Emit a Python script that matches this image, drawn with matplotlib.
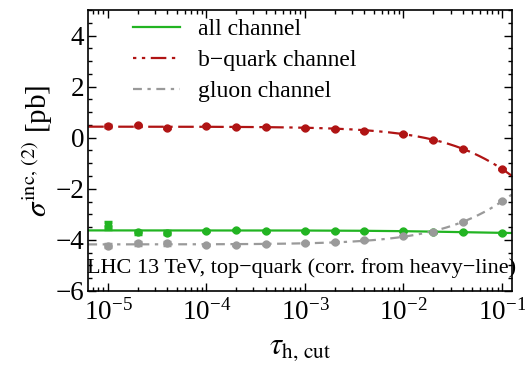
import numpy as np
import matplotlib
matplotlib.use('Agg')
import matplotlib.pyplot as plt
from matplotlib.ticker import LogLocator, MultipleLocator, NullFormatter
from matplotlib.lines import Line2D

plt.rcParams['font.family'] = ['Liberation Serif', 'DejaVu Serif']
plt.rcParams['mathtext.fontset'] = 'stix'

# tau_cut scan points
tau = [1e-5, 2e-5, 4e-5, 1e-4, 2e-4, 4e-4, 1e-3, 2e-3, 4e-3, 1e-2, 2e-2, 4e-2, 1e-1]

sig_all = [-3.45, -3.71, -3.73, -3.66, -3.60, -3.66, -3.64, -3.64, -3.64, -3.64, -3.69, -3.71, -3.73]
err_all = [0.13, 0.06, 0.06, 0, 0, 0, 0, 0, 0, 0, 0, 0, 0]

sig_b = [0.45, 0.48, 0.39, 0.44, 0.41, 0.43, 0.37, 0.33, 0.27, 0.15, -0.08, -0.43, -1.23]
err_b = [0.03, 0.03, 0, 0, 0, 0, 0, 0, 0, 0, 0, 0, 0]

sig_g = [-4.24, -4.14, -4.14, -4.22, -4.19, -4.17, -4.14, -4.08, -3.99, -3.86, -3.68, -3.31, -2.49]
err_g = [0.06, 0.05, 0.05, 0, 0, 0, 0, 0, 0, 0, 0, 0, 0]

c_all = '#22b422'
c_b = '#b01414'
c_g = '#9a9a9a'

xlo, xhi = 10**-5.2, 10**-0.9


def fit_curve(x, y):
    # least squares in a + b*t + c*t*log(t)
    x = np.asarray(x)
    A = np.vstack([np.ones_like(x), x, x * np.log(x)]).T
    coef, *_ = np.linalg.lstsq(A, np.asarray(y), rcond=None)
    t = np.logspace(np.log10(xlo), np.log10(xhi), 300)
    return t, coef[0] + coef[1] * t + coef[2] * t * np.log(t)


fig = plt.figure(figsize=(5.25, 3.71), dpi=100)
ax = fig.add_axes([0.168, 0.216, 0.807, 0.757])

styles = [
    (sig_all, err_all, c_all, '-'),
    (sig_b, err_b, c_b, (0, (7, 2.5, 1.5, 2.5))),
    (sig_g, err_g, c_g, (0, (4, 2.5, 4, 2.5, 1.5, 2.5))),
]
for y, e, col, ls in styles:
    t, f = fit_curve(tau, y)
    ax.plot(t, f, color=col, ls=ls, lw=1.6, zorder=2)
    ax.errorbar(tau, y, yerr=e, fmt='o', color=col, ms=5, elinewidth=2.5,
                capsize=3, capthick=2.5, zorder=3)

ax.set_xscale('log')
ax.set_xlim(xlo, xhi)
ax.set_ylim(-6, 5)
ax.yaxis.set_major_locator(MultipleLocator(2))
ax.yaxis.set_minor_locator(MultipleLocator(0.5))
ax.xaxis.set_major_locator(LogLocator(base=10, numticks=10))
ax.xaxis.set_minor_locator(LogLocator(base=10, subs=np.arange(2, 10), numticks=10))
ax.xaxis.set_minor_formatter(NullFormatter())

ax.tick_params(which='both', direction='in', top=True, right=True, labelsize=19.5, width=1)
ax.tick_params(which='major', length=6)
ax.tick_params(which='minor', length=3)
ax.tick_params(axis='x', pad=6)
ax.tick_params(axis='y', pad=3)
for s in ax.spines.values():
    s.set_linewidth(1.2)

ax.set_xlabel(r'$\tau_{\mathrm{h,\,cut}}$', fontsize=22, labelpad=6)
ax.set_ylabel(r'$\sigma^{\mathrm{inc,\,(2)}}$ [pb]', fontsize=21, labelpad=0)

ax.text(-0.002, 0.045, 'LHC 13 TeV, top\u2212quark (corr. from heavy\u2212line)',
        transform=ax.transAxes, fontsize=16, ha='left', va='bottom')

handles = [
    Line2D([], [], color=c_all, lw=1.6, ls='-'),
    Line2D([], [], color=c_b, lw=1.6, ls=(0, (1.5, 2.5, 1.5, 2.5, 7, 2.5))),
    Line2D([], [], color=c_g, lw=1.6, ls=(0, (4, 2.5, 1.5, 2.5))),
]
labels = ['all channel', 'b\u2212quark channel', 'gluon channel']
ax.legend(handles, labels, loc='upper left', bbox_to_anchor=(0.055, 1.045), frameon=False,
          fontsize=17, handlelength=2.0, handletextpad=0.75, labelspacing=0.4)

fig.savefig('out.png', dpi=100)
